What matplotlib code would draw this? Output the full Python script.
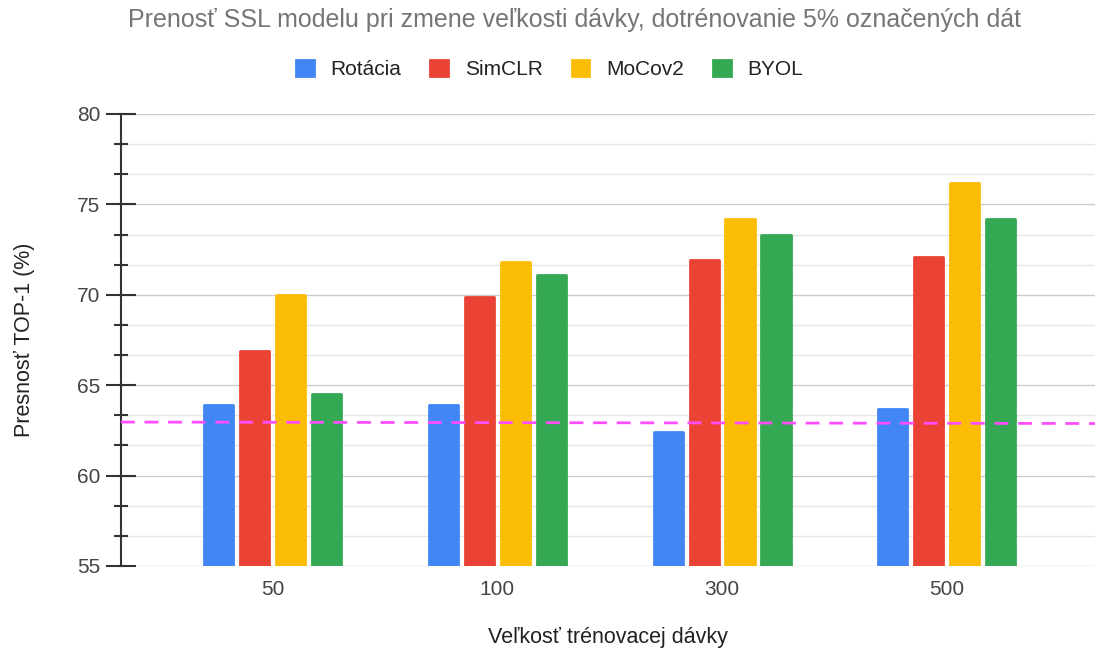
import numpy as np
import matplotlib
matplotlib.use('Agg')
import matplotlib.pyplot as plt
from matplotlib.ticker import MultipleLocator

plt.rcParams['font.family'] = ['Liberation Sans', 'DejaVu Sans']

# batch sizes on the x axis
batch_sizes = ['50', '100', '300', '500']

# top-1 accuracy per method
rotacia = [63.9, 63.9, 62.4, 63.7]
simclr = [66.9, 69.9, 71.9, 72.1]
mocov2 = [70.0, 71.8, 74.2, 76.2]
byol = [64.5, 71.1, 73.3, 74.2]

series_names = ['Rotácia', 'SimCLR', 'MoCov2', 'BYOL']
colors = ['#4285f4', '#ea4335', '#fbbc04', '#34a853']

# dashed reference line (value at left and right edge)
baseline = [62.96, 62.88]

fig = plt.figure(figsize=(10.99, 6.54), dpi=100)
ax = fig.add_axes([0.110, 0.1346, 0.8864, 0.6911])

x = np.arange(len(batch_sizes))
step = 0.16
width = 0.13
for i, (name, vals, c) in enumerate(zip(series_names, [rotacia, simclr, mocov2, byol], colors)):
    ax.bar(x + (i - 1.5) * step, np.array(vals) - 55, width, bottom=55,
           color=c, edgecolor=c, linewidth=2, joinstyle='round', label=name, zorder=3)

xlim = (-0.676, 3.66)
ax.set_xlim(xlim)
ax.set_ylim(55, 80)
ax.plot(xlim, baseline, color='#ff4dff', linestyle=(0, (5, 3.5)), linewidth=2, zorder=4)

ax.yaxis.set_major_locator(MultipleLocator(5))
ax.yaxis.set_minor_locator(MultipleLocator(5 / 3))
ax.grid(axis='y', which='major', color='#cccccc', linewidth=1, zorder=0)
ax.grid(axis='y', which='minor', color='#e6e6e6', linewidth=1, zorder=0)

for s in ['top', 'right', 'bottom']:
    ax.spines[s].set_visible(False)
ax.spines['left'].set_color('#333333')
ax.spines['left'].set_linewidth(1.5)
ax.tick_params(axis='y', which='major', direction='inout', length=22, width=1.5,
               color='#333333', labelsize=15, labelcolor='#444444', pad=4)
ax.tick_params(axis='y', which='minor', direction='inout', length=10, width=1.5,
               color='#333333')
ax.set_xticks(x)
ax.set_xticklabels(batch_sizes)
ax.tick_params(axis='x', length=0, labelsize=15, labelcolor='#444444', pad=10)

ax.set_ylabel('Presnosť TOP-1 (%)', fontsize=15.5, color='#222222', labelpad=30)
ax.set_xlabel('Veľkosť trénovacej dávky', fontsize=15.5, color='#222222', labelpad=20)

fig.text(0.523, 0.970, 'Prenosť SSL modelu pri zmene veľkosti dávky, dotrénovanie 5% označených dát',
         ha='center', va='center', fontsize=18, color='#757575')
fig.legend(loc='center', bbox_to_anchor=(0.5, 0.894), ncol=4, frameon=False,
           fontsize=15, handlelength=0.85, handleheight=0.85, columnspacing=1.4,
           handletextpad=0.8, labelcolor='#222222')

fig.savefig('out.png', dpi=100)
